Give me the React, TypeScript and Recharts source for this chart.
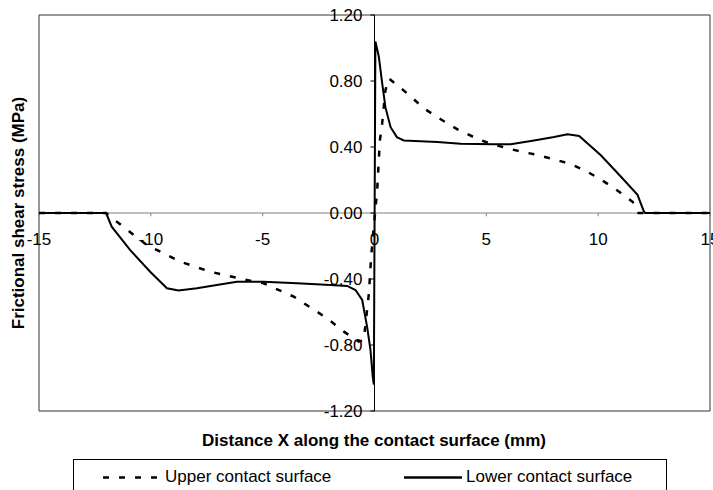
import React from 'react';
import { LineChart, Line, XAxis, YAxis, ReferenceLine, ReferenceDot, ReferenceArea, Legend } from 'recharts';

// distance along contact surface (mm) and shear stress (MPa)
const upperX = [-15, -12, -11.52, -10.18, -9.43, -8.69, -7.34, -5.85, -4.96, -3.61, -2.87, -2.12, -1.37, -0.7, -0.48, -0.25, -0.15, -0.03, 0.12, 0.24, 0.34, 0.49, 0.64, 1.46, 2.21, 2.96, 3.71, 4.45, 5.13, 5.79, 6.54, 7.29, 8.03, 8.78, 9.52, 10.27, 10.94, 11.54, 11.8, 15];
const upperY = [0, 0, -0.053, -0.194, -0.244, -0.295, -0.356, -0.402, -0.426, -0.507, -0.572, -0.638, -0.719, -0.78, -0.77, -0.487, -0.265, -0.083, 0.14, 0.44, 0.54, 0.745, 0.816, 0.725, 0.634, 0.568, 0.507, 0.459, 0.422, 0.398, 0.372, 0.352, 0.325, 0.297, 0.25, 0.19, 0.129, 0.068, 0, 0];

const lowerX = [-15, -12, -11.75, -10.93, -10.03, -9.28, -8.76, -7.94, -7.05, -6.15, -4.96, -3.46, -1.97, -1.22, -0.85, -0.55, -0.33, -0.18, -0.08, -0.03, 0.04, 0.19, 0.34, 0.49, 0.72, 1.0, 1.31, 2.81, 3.85, 5.34, 6.09, 7.13, 8.03, 8.63, 9.15, 10.12, 11.02, 11.76, 12.03, 12.1, 15];
const lowerY = [0, 0, -0.083, -0.224, -0.356, -0.456, -0.47, -0.456, -0.436, -0.416, -0.416, -0.426, -0.436, -0.442, -0.467, -0.527, -0.69, -0.83, -0.99, -1.04, 1.04, 0.95, 0.79, 0.64, 0.52, 0.46, 0.44, 0.43, 0.42, 0.416, 0.416, 0.44, 0.46, 0.477, 0.467, 0.35, 0.22, 0.11, 0.014, 0, 0];

const xTicks = [-15, -10, -5, 0, 5, 10, 15];
const yTicks = [1.2, 0.8, 0.4, 0, -0.4, -0.8, -1.2];

const seriesNames = ['Upper contact surface', 'Lower contact surface'];
const seriesDash = ['6 10', undefined];

const upperData = upperX.map((x, i) => ({ x, y: upperY[i] }));
const lowerData = lowerX.map((x, i) => ({ x, y: lowerY[i] }));

const FONT = '"Liberation Sans", Arial, sans-serif';
const legendLeft = [29, 330];

function LegendBox({ payload }: any) {
  // keep the series order (the legend sorts by name otherwise)
  const items = [...(payload ?? [])].sort(
    (a: any, b: any) => seriesNames.indexOf(a.value) - seriesNames.indexOf(b.value)
  );
  return (
    <div style={{ position: 'relative', width: 594, height: 40, border: '1px solid #000', boxSizing: 'border-box', background: '#fff' }}>
      {items.map((entry: any, i: number) => (
        <div
          key={entry.value}
          style={{ position: 'absolute', left: legendLeft[i], top: 8, display: 'flex', alignItems: 'flex-start', fontSize: 17, lineHeight: '17px', whiteSpace: 'nowrap', color: '#000' }}
        >
          <svg width={58} height={17} style={{ display: 'block' }}>
            <line x1={0} y1={9.5} x2={58} y2={9.5} stroke="#000" strokeWidth={2.5} strokeDasharray={seriesDash[seriesNames.indexOf(entry.value)]} />
          </svg>
          <span style={{ marginLeft: 4 }}>{entry.value}</span>
        </div>
      ))}
    </div>
  );
}

export default function App() {
  return (
    <div style={{ position: 'absolute', left: 0, top: 0, width: 713, height: 490, overflow: 'hidden', background: '#fff', fontFamily: FONT }}>
      <LineChart width={713} height={490} margin={{ top: 15, right: 3, left: 39, bottom: 79 }}>
        <XAxis type="number" dataKey="x" domain={[-15, 15]} allowDataOverflow hide />
        <YAxis type="number" dataKey="y" domain={[-1.2, 1.2]} allowDataOverflow hide />
        <ReferenceArea x1={-15} x2={15} y1={-1.2} y2={1.2} fill="none" stroke="#333" strokeWidth={1} />
        <ReferenceLine y={0} stroke="#808080" strokeWidth={1} />
        <ReferenceLine x={0} stroke="#000" strokeWidth={1} />
        {xTicks.map((t) => (
          <ReferenceLine key={'xt' + t} segment={[{ x: t, y: 0 }, { x: t, y: -0.02 }]} stroke="#808080" ifOverflow="visible" />
        ))}
        {yTicks.map((t) => (
          <ReferenceLine key={'yt' + t} segment={[{ x: -0.18, y: t }, { x: 0, y: t }]} stroke="#000" ifOverflow="visible" />
        ))}
        {xTicks.map((t) => (
          <ReferenceDot
            key={'xl' + t}
            x={t}
            y={0}
            r={0}
            stroke="none"
            fill="none"
            ifOverflow="visible"
            label={{ value: String(t), position: 'bottom', offset: 20, fill: '#000', fontSize: 17 }}
          />
        ))}
        {yTicks.map((t) => (
          <ReferenceDot
            key={'yl' + t}
            x={0}
            y={t}
            r={0}
            stroke="none"
            fill="none"
            ifOverflow="visible"
            label={{ value: t.toFixed(2), position: 'left', offset: 12, fill: '#000', fontSize: 17 }}
          />
        ))}
        <Line
          data={upperData}
          dataKey="y"
          name={seriesNames[0]}
          type="linear"
          stroke="#000"
          strokeWidth={2.5}
          strokeDasharray={seriesDash[0]}
          dot={false}
          isAnimationActive={false}
        />
        <Line
          data={lowerData}
          dataKey="y"
          name={seriesNames[1]}
          type="linear"
          stroke="#000"
          strokeWidth={2}
          dot={false}
          isAnimationActive={false}
        />
        <Legend
          layout="horizontal"
          verticalAlign="middle"
          align="center"
          wrapperStyle={{ left: 73, top: 459, width: 594, height: 40 }}
          content={LegendBox}
        />
      </LineChart>
      <div
        style={{ position: 'absolute', left: 374 - 250, top: 432, width: 500, textAlign: 'center', fontSize: 17, lineHeight: '17px', fontWeight: 'bold', color: '#000' }}
      >
        Distance X along the contact surface (mm)
      </div>
      <div
        style={{ position: 'absolute', left: 19 - 150, top: 213 - 10, width: 300, height: 20, lineHeight: '20px', textAlign: 'center', fontSize: 17, fontWeight: 'bold', color: '#000', transform: 'rotate(-90deg)' }}
      >
        Frictional shear stress (MPa)
      </div>
    </div>
  );
}
